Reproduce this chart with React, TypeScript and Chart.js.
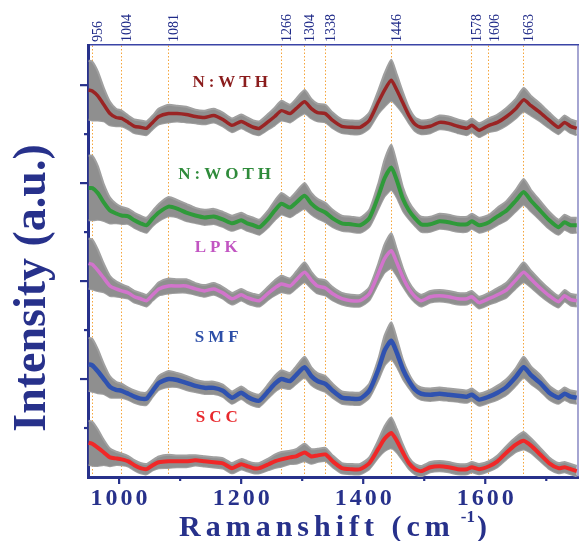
import React, { useEffect, useRef } from 'react';
import { Chart, registerables } from 'chart.js';
Chart.register(...registerables);

// ---------- data ----------
const WAVENUMBERS = [950, 956, 965, 975, 985, 995, 1004, 1015, 1025, 1035, 1045, 1055, 1065, 1081, 1095, 1110, 1125, 1140, 1155, 1170, 1185, 1200, 1210, 1220, 1230, 1245, 1255, 1266, 1280, 1290, 1304, 1315, 1325, 1338, 1350, 1365, 1380, 1395, 1410, 1425, 1435, 1446, 1455, 1465, 1475, 1485, 1495, 1510, 1525, 1540, 1555, 1570, 1578, 1590, 1606, 1620, 1635, 1650, 1663, 1675, 1690, 1705, 1720, 1730, 1740, 1750];

const SERIES = ['N:WTH', 'N:WOTH', 'LPK', 'SMF', 'SCC'];

const N_WTH = [395, 394, 389, 380, 371, 367, 366, 362, 358, 357, 356, 362, 368, 371, 371, 370, 368, 367, 369, 365, 359, 363, 360, 357, 356, 363, 368, 374, 371, 376, 383, 376, 372, 371, 364, 358, 357, 357, 364, 383, 395, 405, 395, 382, 369, 360, 357, 358, 362, 361, 358, 356, 359, 354, 359, 362, 368, 376, 385, 379, 372, 364, 357, 362, 358, 356];
const N_WOTH = [295, 295, 290, 280, 272, 269, 267, 266, 262, 259, 257, 264, 270, 276, 274, 270, 267, 265, 266, 263, 259, 262, 259, 257, 255, 264, 272, 279, 275, 280, 287, 279, 274, 270, 264, 259, 258, 257, 264, 287, 305, 316, 303, 284, 272, 264, 258, 258, 261, 260, 258, 258, 261, 257, 260, 266, 272, 282, 291, 282, 272, 262, 255, 260, 257, 257];
const LPK = [218, 217, 211, 203, 195, 192, 190, 188, 184, 182, 180, 186, 192, 195, 195, 195, 192, 190, 192, 188, 182, 186, 183, 181, 180, 188, 193, 197, 195, 201, 209, 201, 195, 193, 187, 182, 180, 180, 187, 208, 223, 231, 219, 204, 192, 184, 180, 184, 185, 184, 182, 182, 184, 178, 182, 186, 191, 201, 209, 202, 193, 185, 179, 185, 181, 180];
const SMF = [115, 114, 108, 100, 92, 89, 88, 85, 82, 80, 80, 88, 96, 100, 99, 96, 93, 91, 91, 88, 81, 86, 82, 79, 78, 88, 95, 100, 98, 104, 112, 103, 98, 95, 88, 81, 80, 80, 88, 110, 129, 139, 127, 110, 98, 89, 85, 84, 85, 84, 83, 82, 84, 79, 82, 86, 92, 102, 112, 104, 96, 86, 81, 85, 82, 81];
const SCC = [35, 34, 30, 25, 20, 19, 18, 16, 12, 9, 8, 12, 15, 16, 16, 16, 17, 16, 15, 14, 9, 13, 11, 9, 9, 13, 16, 18, 20, 21, 25, 21, 22, 23, 16, 9, 8, 8, 14, 29, 39, 45, 37, 25, 14, 8, 6, 10, 11, 10, 8, 8, 10, 8, 11, 16, 25, 33, 37, 32, 23, 14, 9, 10, 8, 6];

// standard-deviation half-width profile
const STD = [30, 30, 25, 17, 12, 9, 8, 7, 7, 7, 7, 7, 8, 9, 8, 8, 7, 7, 7, 7, 7, 7, 7, 7, 7, 8, 9, 10, 9, 10, 12, 10, 9, 9, 8, 7, 7, 7, 8, 12, 17, 21, 16, 11, 8, 7, 7, 7, 7, 7, 7, 7, 7, 7, 7, 8, 9, 10, 12, 10, 9, 8, 7, 7, 7, 7];
const STD_SCALE = [1.0, 1.1, 0.85, 0.9, 0.75];

const VALUES = [N_WTH, N_WOTH, LPK, SMF, SCC];

const PEAKS = [956, 1004, 1081, 1266, 1304, 1338, 1446, 1578, 1606, 1663];
const X_MIN = 949;
const X_MAX = 1752;
const X_MAJOR = [1000, 1200, 1400, 1600];
const X_MINOR = [1100, 1300, 1500, 1700];
const Y_MIN = 0;
const Y_MAX = 441;
const Y_MAJOR = [100, 200, 300, 400];
const Y_MINOR = [50, 150, 250, 350];

const LABEL_X = [1182, 1173, 1159, 1160, 1160];
const LABEL_Y = [403, 309, 234, 142, 61];

// ---------- styles ----------
const LINE_COLORS = ['#9a2424', '#2f9a3a', '#d274cc', '#2f52b0', '#f02828'];
const LINE_WIDTHS = [3.5, 4, 3.5, 4.5, 4];
const LABEL_COLORS = ['#8b1c1c', '#2e8b3a', '#c255c2', '#2d4fa8', '#e8282c'];
const BAND = '#8f8f8f';
const NAVY = '#27318b';
const ORANGE = 'rgba(244,160,48,0.95)';
const SERIF = "'Liberation Serif', 'Times New Roman', serif";

function drawSpaced(ctx: CanvasRenderingContext2D, text: string, cx: number, y: number, spacing: number) {
  const chars = text.split('');
  const widths = chars.map((c) => ctx.measureText(c).width);
  const total = widths.reduce((a, b) => a + b, 0) + spacing * (chars.length - 1);
  let x = cx - total / 2;
  ctx.textAlign = 'left';
  chars.forEach((c, i) => {
    ctx.fillText(c, x, y);
    x += widths[i] + spacing;
  });
}

const decorPlugin = {
  id: 'decor',
  afterDatasetsDraw(chart: any) {
    const { ctx, scales } = chart;
    const xs = scales.x;
    const ys = scales.y;
    ctx.save();
    ctx.font = `bold 17px ${SERIF}`;
    ctx.textBaseline = 'middle';
    SERIES.forEach((name, i) => {
      ctx.fillStyle = LABEL_COLORS[i];
      drawSpaced(ctx, name, xs.getPixelForValue(LABEL_X[i]), ys.getPixelForValue(LABEL_Y[i]), 4);
    });
    ctx.restore();
  },
  afterDraw(chart: any) {
    const { ctx, chartArea: a, scales } = chart;
    const xs = scales.x;
    const ys = scales.y;
    ctx.save();
    // right frame line
    ctx.strokeStyle = '#6a6ab4';
    ctx.lineWidth = 1.2;
    ctx.beginPath();
    ctx.moveTo(a.right, a.top);
    ctx.lineTo(a.right, a.bottom);
    ctx.stroke();
    // tick marks
    ctx.strokeStyle = NAVY;
    ctx.lineWidth = 2.2;
    const xt = (v: number, len: number) => {
      const px = xs.getPixelForValue(v);
      ctx.beginPath();
      ctx.moveTo(px, a.bottom);
      ctx.lineTo(px, a.bottom + len);
      ctx.stroke();
    };
    X_MAJOR.forEach((v) => xt(v, 7));
    X_MINOR.forEach((v) => xt(v, 4));
    const yt = (v: number, len: number) => {
      const py = ys.getPixelForValue(v);
      ctx.beginPath();
      ctx.moveTo(a.left, py);
      ctx.lineTo(a.left - len, py);
      ctx.stroke();
    };
    Y_MAJOR.forEach((v) => yt(v, 8));
    Y_MINOR.forEach((v) => yt(v, 4));
    // top peak labels (rotated)
    ctx.fillStyle = '#1f2a88';
    ctx.font = `14px ${SERIF}`;
    PEAKS.forEach((p) => {
      const px = xs.getPixelForValue(p);
      ctx.save();
      ctx.translate(px + 6, a.top - 3);
      ctx.rotate(-Math.PI / 2);
      ctx.textAlign = 'left';
      ctx.textBaseline = 'middle';
      ctx.fillText(String(p), 0, 0);
      ctx.restore();
    });
    // x tick labels
    ctx.fillStyle = NAVY;
    ctx.font = `bold 24px ${SERIF}`;
    ctx.textBaseline = 'alphabetic';
    X_MAJOR.forEach((v) => drawSpaced(ctx, String(v), xs.getPixelForValue(v), a.bottom + 28, 3));
    // x title
    ctx.font = `bold 30px ${SERIF}`;
    const main = 'Ramanshift (cm';
    const sp = 5;
    const chars = main.split('');
    const widths = chars.map((c) => ctx.measureText(c).width);
    ctx.font = `bold 17px ${SERIF}`;
    const supW = ctx.measureText('-1').width;
    ctx.font = `bold 30px ${SERIF}`;
    const closeW = ctx.measureText(')').width;
    const total = widths.reduce((p, q) => p + q, 0) + sp * chars.length + 6 + supW + 2 + closeW;
    let x = (a.left + a.right) / 2 - total / 2;
    const base = 536;
    ctx.textAlign = 'left';
    chars.forEach((c, i) => {
      ctx.fillText(c, x, base);
      x += widths[i] + sp;
    });
    x += 6;
    ctx.font = `bold 17px ${SERIF}`;
    ctx.fillText('-1', x, base - 14);
    x += supW + 2;
    ctx.font = `bold 30px ${SERIF}`;
    ctx.fillText(')', x, base);
    // y title
    ctx.save();
    ctx.translate(33, 288);
    ctx.rotate(-Math.PI / 2);
    ctx.font = `bold 46px ${SERIF}`;
    ctx.textAlign = 'center';
    ctx.textBaseline = 'middle';
    ctx.fillText('Intensity (a.u.)', 0, 0);
    ctx.restore();
    ctx.restore();
  },
};

export default function App() {
  const ref = useRef<HTMLCanvasElement>(null);
  useEffect(() => {
    const canvas = ref.current;
    if (!canvas) return;
    const datasets: any[] = [];
    SERIES.forEach((name, i) => {
      datasets.push({
        label: name,
        data: WAVENUMBERS.map((w, j) => ({ x: w, y: VALUES[i][j] })),
        borderColor: LINE_COLORS[i],
        borderWidth: LINE_WIDTHS[i],
        pointRadius: 0,
        tension: 0.2,
        fill: false,
        order: 0,
      });
    });
    SERIES.forEach((name, i) => {
      const upper = WAVENUMBERS.map((w, j) => ({ x: w, y: VALUES[i][j] + STD[j] * STD_SCALE[i] }));
      const lower = WAVENUMBERS.map((w, j) => ({ x: w, y: VALUES[i][j] - STD[j] * STD_SCALE[i] }));
      datasets.push({
        label: name + ' +SD',
        data: upper,
        borderColor: '#a0a0a0',
        backgroundColor: BAND,
        borderWidth: 2,
        pointRadius: 0,
        tension: 0.2,
        fill: '+1',
        order: 1,
      });
      datasets.push({
        label: name + ' -SD',
        data: lower,
        borderColor: '#a0a0a0',
        borderWidth: 2,
        pointRadius: 0,
        tension: 0.2,
        fill: false,
        order: 1,
      });
    });

    const chart = new Chart(canvas, {
      type: 'line',
      data: { datasets },
      plugins: [decorPlugin],
      options: {
        animation: false,
        responsive: false,
        maintainAspectRatio: false,
        devicePixelRatio: 1,
        layout: { padding: { left: 0, right: 2, top: 0, bottom: 0 } },
        plugins: { legend: { display: false }, tooltip: { enabled: false } },
        scales: {
          x: {
            type: 'linear',
            position: 'bottom',
            min: X_MIN,
            max: X_MAX,
            afterBuildTicks: (s: any) => {
              s.ticks = X_MAJOR.map((v) => ({ value: v }));
            },
            ticks: { display: false },
            grid: { display: false },
            border: { display: true, color: NAVY, width: 3 },
            afterFit: (s: any) => {
              s.height = 64;
              s.paddingLeft = 0;
              s.paddingRight = 0;
            },
          },
          x2: {
            type: 'linear',
            position: 'top',
            min: X_MIN,
            max: X_MAX,
            afterBuildTicks: (s: any) => {
              s.ticks = PEAKS.map((v) => ({ value: v }));
            },
            ticks: { display: false },
            grid: { display: true, drawOnChartArea: true, drawTicks: false, color: ORANGE, lineWidth: 1 },
            border: { display: true, color: '#3a44a6', width: 1.5, dash: [1.5, 2] },
            afterFit: (s: any) => {
              s.height = 45;
              s.paddingLeft = 0;
              s.paddingRight = 0;
            },
          },
          y: {
            type: 'linear',
            min: Y_MIN,
            max: Y_MAX,
            ticks: { display: false },
            grid: { display: false },
            border: { display: true, color: NAVY, width: 3 },
            afterFit: (s: any) => {
              s.width = 88;
            },
          },
        },
      } as any,
    });
    return () => chart.destroy();
  }, []);
  return (
    <div style={{ position: 'fixed', left: 0, top: 0, width: 580, height: 541, background: '#fff' }}>
      <canvas ref={ref} width={580} height={541} style={{ display: 'block' }} />
    </div>
  );
}
